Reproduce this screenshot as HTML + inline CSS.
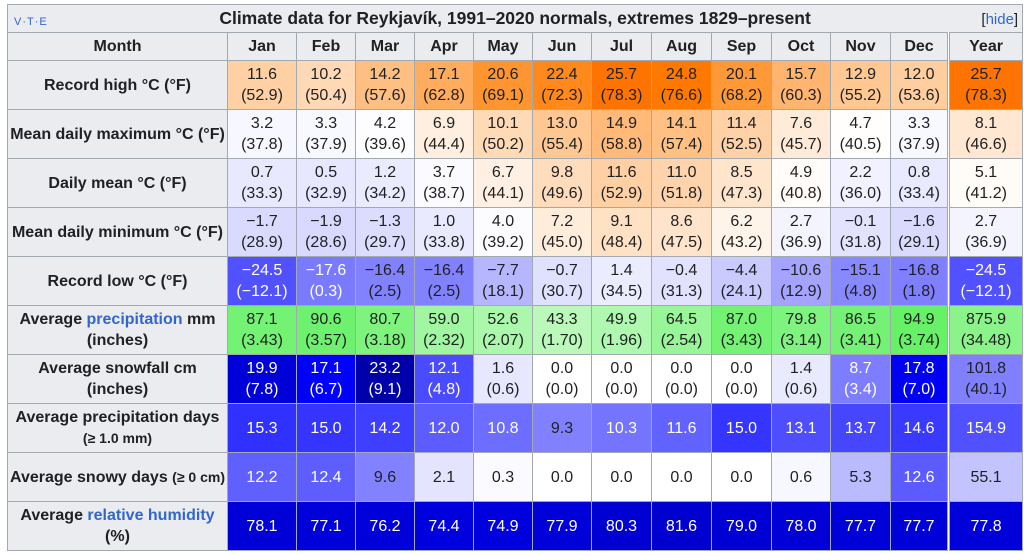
<!DOCTYPE html>
<html><head><meta charset="utf-8">
<style>
body{margin:0;background:#fff;font-family:"Liberation Sans",sans-serif;color:#202122;width:1024px;height:555px;overflow:hidden}
table{position:absolute;left:7px;top:4px;border-collapse:collapse;table-layout:fixed;width:1015px;font-size:16px;line-height:21px}
td,th{border:1px solid #a2a9b1;text-align:center;padding:0;overflow:hidden}
th{background:#eaecf0;font-weight:bold}
.title{height:27px;font-size:17.5px;position:relative}
.vte{position:absolute;left:6px;top:7px;font-size:11px;font-weight:normal;color:#3366cc;letter-spacing:1px}
.hide{position:absolute;right:4px;top:4px;font-size:15px;font-weight:normal}
.hide a{color:#3366cc}
tr.hd th{height:27px}
tr.row td,tr.row th{height:48px}
.yr{border-left:3px double #a2a9b1}
a{color:#3366cc;text-decoration:none}
</style></head><body>
<table>
<colgroup><col style="width:220px"><col style="width:69px"><col style="width:59px"><col style="width:59px"><col style="width:59px"><col style="width:59px"><col style="width:59px"><col style="width:60px"><col style="width:60px"><col style="width:60px"><col style="width:59px"><col style="width:60px"><col style="width:58px"><col style="width:74px"></colgroup>
<thead>
<tr><th colspan="14" class="title"><span class="vte">V·T·E</span>Climate data for Reykjavík, 1991–2020 normals, extremes 1829–present<span class="hide">[<a>hide</a>]</span></th></tr>
<tr class="hd" id="hdr"></tr>
</thead>
<tbody id="body"></tbody>
</table>
<script>
const months=["Jan","Feb","Mar","Apr","May","Jun","Jul","Aug","Sep","Oct","Nov","Dec","Year"];
const recordHigh=[11.6,10.2,14.2,17.1,20.6,22.4,25.7,24.8,20.1,15.7,12.9,12.0,25.7];
const recordHighF=["52.9","50.4","57.6","62.8","69.1","72.3","78.3","76.6","68.2","60.3","55.2","53.6","78.3"];
const meanMax=[3.2,3.3,4.2,6.9,10.1,13.0,14.9,14.1,11.4,7.6,4.7,3.3,8.1];
const meanMaxF=["37.8","37.9","39.6","44.4","50.2","55.4","58.8","57.4","52.5","45.7","40.5","37.9","46.6"];
const dailyMean=[0.7,0.5,1.2,3.7,6.7,9.8,11.6,11.0,8.5,4.9,2.2,0.8,5.1];
const dailyMeanF=["33.3","32.9","34.2","38.7","44.1","49.6","52.9","51.8","47.3","40.8","36.0","33.4","41.2"];
const meanMin=[-1.7,-1.9,-1.3,1.0,4.0,7.2,9.1,8.6,6.2,2.7,-0.1,-1.6,2.7];
const meanMinF=["28.9","28.6","29.7","33.8","39.2","45.0","48.4","47.5","43.2","36.9","31.8","29.1","36.9"];
const recordLow=[-24.5,-17.6,-16.4,-16.4,-7.7,-0.7,1.4,-0.4,-4.4,-10.6,-15.1,-16.8,-24.5];
const recordLowF=["−12.1","0.3","2.5","2.5","18.1","30.7","34.5","31.3","24.1","12.9","4.8","1.8","−12.1"];
const precip=[87.1,90.6,80.7,59.0,52.6,43.3,49.9,64.5,87.0,79.8,86.5,94.9,875.9];
const precipIn=["3.43","3.57","3.18","2.32","2.07","1.70","1.96","2.54","3.43","3.14","3.41","3.74","34.48"];
const snowfall=[19.9,17.1,23.2,12.1,1.6,0.0,0.0,0.0,0.0,1.4,8.7,17.8,101.8];
const snowfallIn=["7.8","6.7","9.1","4.8","0.6","0.0","0.0","0.0","0.0","0.6","3.4","7.0","40.1"];
const precipDays=[15.3,15.0,14.2,12.0,10.8,9.3,10.3,11.6,15.0,13.1,13.7,14.6,154.9];
const snowyDays=[12.2,12.4,9.6,2.1,0.3,0.0,0.0,0.0,0.0,0.6,5.3,12.6,55.1];
const humidity=[78.1,77.1,76.2,74.4,74.9,77.9,80.3,81.6,79.0,78.0,77.7,77.7,77.8];

const cl=v=>Math.max(0,Math.min(255,Math.round(v)));
function tempCol(t){
  if(t>=4.5){return [255,cl(255-(t-4.5)*6.6),cl(255-(t-4.5)*12.8)];}
  const g=cl(255-(4.5-t)*6);return [g,g,255];
}
function precipCol(v,yr){v=yr?v/12:v;const r=cl(255-v*1.6);return [r,cl(255-v*0.15),r];}
function snowCol(v,yr){v=yr?v/12:v;const r=255-v*15;if(r>=0)return [cl(r),cl(r),255];return [0,0,cl(255+r*0.9)];}
function daysCol(v,yr,k){v=yr?v/12:v;const r=cl(255-v*k);return [r,r,255];}
function humCol(v){return [0,0,cl(255-(v-60)*2.2)];}
const lum=c=>0.299*c[0]+0.587*c[1]+0.114*c[2];
const fmt=v=>(v<0?"−":"")+Math.abs(v).toFixed(1);

const hdr=document.getElementById('hdr');
let th=document.createElement('th');th.textContent="Month";


hdr.appendChild(th);
months.forEach((m,i)=>{const h=document.createElement('th');h.textContent=m;if(i==12)h.className='yr';


hdr.appendChild(h);});

const rows=[
 {label:"Record high °C (°F)",name:"record-high",vals:recordHigh,sub:recordHighF,col:(v)=>tempCol(v)},
 {label:"Mean daily maximum °C (°F)",name:"mean-daily-max",vals:meanMax,sub:meanMaxF,col:(v)=>tempCol(v)},
 {label:"Daily mean °C (°F)",name:"daily-mean",vals:dailyMean,sub:dailyMeanF,col:(v)=>tempCol(v)},
 {label:"Mean daily minimum °C (°F)",name:"mean-daily-min",vals:meanMin,sub:meanMinF,col:(v)=>tempCol(v)},
 {label:"Record low °C (°F)",name:"record-low",vals:recordLow,sub:recordLowF,col:(v)=>tempCol(v)},
 {label:'Average <a>precipitation</a> mm (inches)',name:"avg-precipitation",vals:precip,sub:precipIn,col:precipCol},
 {label:"Average snowfall cm (inches)",name:"avg-snowfall",vals:snowfall,sub:snowfallIn,col:snowCol},
 {label:'Average precipitation days <span style="font-size:14px">(≥ 1.0 mm)</span>',name:"avg-precip-days",vals:precipDays,col:(v,y)=>daysCol(v,y,13.5)},
 {label:'Average snowy days <span style="font-size:14px">(≥ 0 cm)</span>',name:"avg-snowy-days",vals:snowyDays,col:(v,y)=>daysCol(v,y,13)},
 {label:'Average <a>relative humidity</a> (%)',name:"avg-relative-humidity",vals:humidity,col:(v)=>humCol(v)}
];
const body=document.getElementById('body');
rows.forEach(r=>{
  const tr=document.createElement('tr');tr.className='row';
  
  
  const h=document.createElement('th');h.innerHTML=r.label;
  
  
  tr.appendChild(h);
  r.vals.forEach((v,i)=>{
    const td=document.createElement('td');const c=r.col(v,i==12);
    td.style.background=`rgb(${c[0]},${c[1]},${c[2]})`;
    td.style.color=lum(c)<140?'#fff':'#202122';
    if(i==12)td.className='yr';
    td.innerHTML=fmt(v)+(r.sub?'<br>('+r.sub[i]+')':'');
    
    
    tr.appendChild(td);
  });
  body.appendChild(tr);
});
</script>
</body></html>
